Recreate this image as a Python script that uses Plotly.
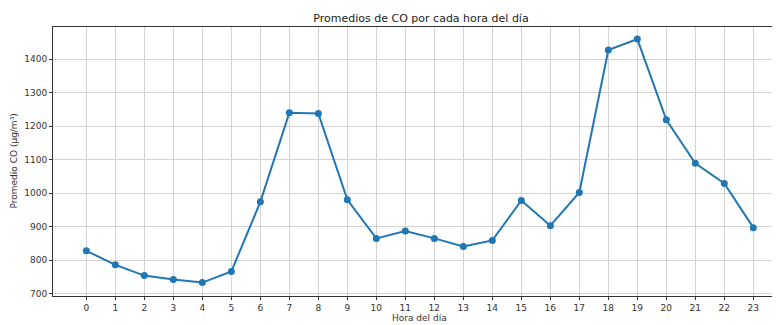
import plotly.graph_objects as go

hours = list(range(24))
co_values = [828, 786, 754, 742, 733, 766, 974, 1240, 1238, 980, 865, 887,
             865, 841, 859, 978, 903, 1002, 1427, 1460, 1219, 1089, 1029, 897]
y_ticks = [700, 800, 900, 1000, 1100, 1200, 1300, 1400]

fig = go.Figure()
fig.add_trace(go.Scatter(
    x=hours, y=co_values, mode="lines+markers",
    line=dict(color="#1f77b4", width=2),
    marker=dict(color="#1f77b4", size=7),
))

font = "DejaVu Sans, sans-serif"
# page has an 8px body margin, so the figure is sized/offset to compensate
fig.update_layout(
    width=772, height=317,
    margin=dict(l=45, r=0, t=19, b=29),
    paper_bgcolor="white", plot_bgcolor="white",
    showlegend=False,
    title=dict(text="Promedios de CO por cada hora del día", x=0.535, xanchor="center",
               y=0.968, yanchor="middle", font=dict(family=font, size=11, color="#222")),
    font=dict(family=font, size=9, color="#333"),
)
fig.update_xaxes(
    range=[-1.15, 23.92], tickmode="array", tickvals=hours,
    ticktext=[str(h) for h in hours], automargin=False,
    showgrid=True, gridcolor="#d3d3d3", gridwidth=1,
    showline=True, linecolor="#333", linewidth=1, mirror=True,
    ticks="outside", ticklen=3, tickcolor="#333", zeroline=False,
)
fig.update_yaxes(
    range=[693, 1496], tickmode="array", tickvals=y_ticks, automargin=False,
    showgrid=True, gridcolor="#d3d3d3", gridwidth=1,
    showline=True, linecolor="#333", linewidth=1, mirror=False,
    ticks="outside", ticklen=3, tickcolor="#333", zeroline=False,
)
fig.add_annotation(text="Hora del día", xref="x", yref="paper", x=11.5, y=0,
                   yshift=-22, showarrow=False, xanchor="center", yanchor="middle",
                   font=dict(family=font, size=9, color="#333"))
fig.add_annotation(text="Promedio CO (µg/m³)", xref="paper", yref="paper", x=0, y=0.5,
                   xshift=-40, showarrow=False, textangle=-90, xanchor="center",
                   yanchor="middle", font=dict(family=font, size=9, color="#333"))

fig.write_html("out.html")
